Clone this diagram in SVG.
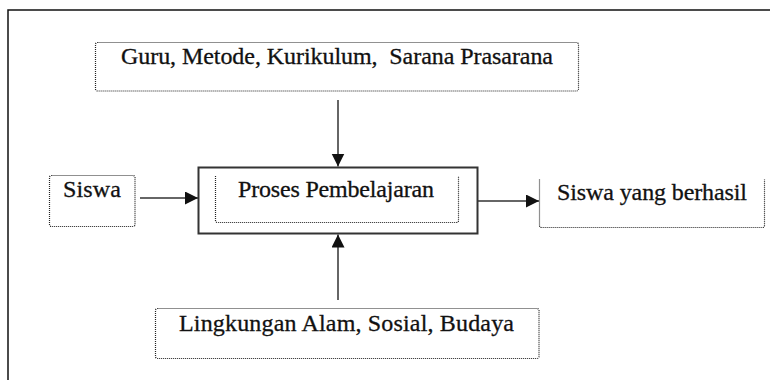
<svg xmlns="http://www.w3.org/2000/svg" width="770" height="380" viewBox="0 0 770 380">
<defs>
<style>
.dot{fill:none;stroke:#222;stroke-width:1.2;stroke-dasharray:1 1;}
.solid{fill:#fff;stroke:#333;stroke-width:2;}
.lbl{font-family:'Liberation Serif','DejaVu Serif',serif;font-size:24px;fill:#111;stroke:#111;stroke-width:0.3;}
.conn{stroke:#333;stroke-width:1.5;fill:none;marker-end:url(#ah);}
</style>
<marker id="ah" markerUnits="userSpaceOnUse" markerWidth="14" markerHeight="14" refX="13" refY="6.5" orient="auto">
<path d="M0,0 L13,6.5 L0,13 Z" fill="#111"/>
</marker>
</defs>
<rect width="770" height="380" fill="#fff"/>
<g id="frame">
<path d="M8,380 V10 H770" fill="none" stroke="#111" stroke-width="1.5"/>
</g>
<g id="connectors">
<line class="conn" x1="338" y1="100" x2="338" y2="166.5"/>
<line class="conn" x1="338" y1="300" x2="338" y2="234.5"/>
<line class="conn" x1="140" y1="198" x2="198" y2="198"/>
<line class="conn" x1="478" y1="201" x2="539" y2="201"/>
</g>
<g id="node-guru">
<rect class="dot" x="95.5" y="42.5" width="483" height="48.5" rx="2"/>
<text class="lbl" x="121" y="64" textLength="432" xml:space="preserve">Guru, Metode, Kurikulum,  Sarana Prasarana</text>
</g>
<g id="node-siswa">
<rect class="dot" x="49.5" y="175.5" width="85.5" height="51" rx="2"/>
<text class="lbl" x="63" y="197" textLength="58">Siswa</text>
</g>
<g id="node-proses">
<rect class="solid" x="198.5" y="167.5" width="279" height="66"/>
<path class="dot" d="M215.5,176 V220.5 Q215.5,222.5 217.5,222.5 H456.5 Q458.5,222.5 458.5,220.5 V176"/>
<text class="lbl" x="238" y="197" textLength="196">Proses Pembelajaran</text>
</g>
<g id="node-berhasil">
<path class="dot" d="M539.5,179.5 V225.5 Q539.5,227.5 541.5,227.5 H762.5 Q764.5,227.5 764.5,225.5 V179.5"/>
<text class="lbl" x="557" y="200" textLength="190">Siswa yang berhasil</text>
</g>
<g id="node-lingkungan">
<rect class="dot" x="155.5" y="308.5" width="383.5" height="50" rx="2"/>
<text class="lbl" x="179" y="331" textLength="335">Lingkungan Alam, Sosial, Budaya</text>
</g>
</svg>
